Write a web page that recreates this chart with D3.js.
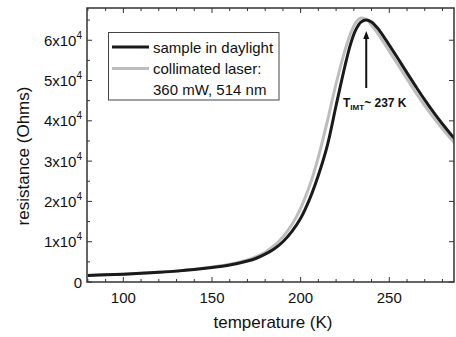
<!DOCTYPE html>
<html><head><meta charset="utf-8">
<script src="https://cdn.jsdelivr.net/npm/d3@7"></script>
<style>
body{margin:0;background:#fff;}
text{font-family:"Liberation Sans",Arial,sans-serif;}
</style></head>
<body><svg id="c" width="456" height="337"></svg>
<script>
const temps = [80,90,100,110,120,130,140,150,160,170,175,180,185,190,195,200,205,210,215,220,225,228,231,234,237,240,243,245,250,255,260,265,270,275,280,285,287];
const daylight = [1600,1800,1950,2150,2400,2700,3100,3600,4200,5200,5900,6900,8200,10000,12500,15800,20500,26500,33800,43800,53600,58800,62500,64500,65000,64500,63200,62100,58800,55400,51900,48500,45200,42100,39200,36500,35500];
const laser = [1600,1800,1950,2150,2400,2750,3150,3700,4400,5500,6300,7400,9000,11200,14200,18300,23800,31000,39800,49200,57500,61500,64300,65500,65200,63800,62000,60700,57300,53900,50400,47000,43800,40800,38000,35400,34400];
const xTicks = [100,150,200,250];
const yTicks = [0,10000,20000,30000,40000,50000,60000];
const yTickLabels = ["0","1x10","2x10","3x10","4x10","5x10","6x10"];
const legendLabels = ["sample in daylight","collimated laser:","360 mW, 514 nm"];

const svg = d3.select("#c");
const m = {l:87, t:8, r:454, b:282};
const x = d3.scaleLinear().domain([79.5,286.5]).range([m.l,m.r]);
const y = d3.scaleLinear().domain([0,68000]).range([m.b,m.t]);
const axCol = "#333";

svg.append("defs").append("clipPath").attr("id","clip").append("rect")
  .attr("x",m.l).attr("y",m.t).attr("width",m.r-m.l).attr("height",m.b-m.t);

const line = d3.line().x((d,i)=>x(temps[i])).y(d=>y(d)).curve(d3.curveCatmullRom.alpha(0.5));
const g = svg.append("g").attr("clip-path","url(#clip)");
g.append("path").datum(laser).attr("d",line).attr("fill","none").attr("stroke","#bdbdbd").attr("stroke-width",3);
g.append("path").datum(daylight).attr("d",line).attr("fill","none").attr("stroke","#1a1a1a").attr("stroke-width",3);

// frame
svg.append("rect").attr("x",m.l).attr("y",m.t).attr("width",m.r-m.l).attr("height",m.b-m.t)
  .attr("fill","none").attr("stroke",axCol).attr("stroke-width",1.5);

// ticks
const xMinor = d3.range(80,290,10);
const yMinor = d3.range(0,68001,5000);
const tk = svg.append("g").attr("stroke",axCol).attr("stroke-width",1);
xMinor.forEach(v=>{
  const L = xTicks.includes(v)?5:3;
  tk.append("line").attr("x1",x(v)).attr("x2",x(v)).attr("y1",m.b).attr("y2",m.b-L);
  tk.append("line").attr("x1",x(v)).attr("x2",x(v)).attr("y1",m.t).attr("y2",m.t+L);
});
yMinor.forEach(v=>{
  const maj = v%10000===0;
  const L = maj?5:3;
  tk.append("line").attr("x1",m.l).attr("x2",m.l+L).attr("y1",y(v)).attr("y2",y(v));
  if(maj) tk.append("line").attr("x1",m.r).attr("x2",m.r-L).attr("y1",y(v)).attr("y2",y(v));
});

// x labels
xTicks.forEach(v=>{
  svg.append("text").attr("x",x(v)).attr("y",302.5).attr("text-anchor","middle")
    .attr("font-size",15).attr("fill","#111").text(v);
});
// y labels
yTicks.forEach((v,i)=>{
  const t = svg.append("text").attr("y",y(v)+5.5).attr("text-anchor","end").attr("x",82)
    .attr("font-size",15).attr("fill","#111");
  if(i===0){ t.text(yTickLabels[i]); }
  else {
    t.append("tspan").text(yTickLabels[i]);
    t.append("tspan").attr("font-size",10).attr("dy",-7).text("4");
  }
});
// axis titles
svg.append("text").attr("x",273).attr("y",328).attr("text-anchor","middle").attr("font-size",17).attr("fill","#111").text("temperature (K)");
svg.append("text").attr("transform","translate(29,156) rotate(-90)").attr("text-anchor","middle").attr("font-size",17).attr("fill","#111").text("resistance (Ohms)");

// legend
svg.append("rect").attr("x",108.5).attr("y",32.5).attr("width",170.5).attr("height",67.5)
  .attr("fill","#fff").attr("stroke","#444").attr("stroke-width",1);
svg.append("line").attr("x1",112).attr("x2",149).attr("y1",47).attr("y2",47).attr("stroke","#1a1a1a").attr("stroke-width",3);
svg.append("line").attr("x1",112).attr("x2",149).attr("y1",68.5).attr("y2",68.5).attr("stroke","#bdbdbd").attr("stroke-width",3);
legendLabels.forEach((s,i)=>{
  svg.append("text").attr("x",153).attr("y",52.5+i*21).attr("font-size",15).attr("fill","#111").text(s);
});

// annotation arrow
const ax = x(237);
svg.append("line").attr("x1",ax).attr("x2",ax).attr("y1",88).attr("y2",38)
  .attr("stroke","#111").attr("stroke-width",2);
svg.append("path").attr("d",`M${ax-3},39 L${ax},31 L${ax+3},39 Z`).attr("fill","#111");
const ann = svg.append("text").attr("x",343).attr("y",107).attr("font-size",12).attr("font-weight","bold").attr("fill","#111");
ann.append("tspan").text("T");
ann.append("tspan").attr("font-size",8).attr("dy",3).text("IMT");
ann.append("tspan").attr("dy",-3).text("~ 237 K");
</script></body></html>
